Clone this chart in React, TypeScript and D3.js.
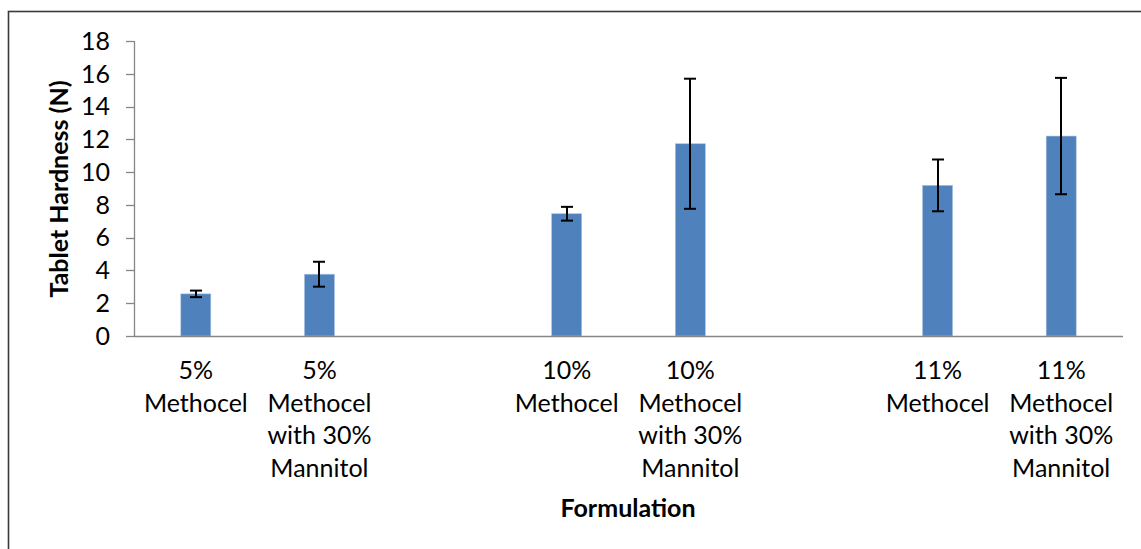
import React from "react";
import * as d3 from "d3";

const categories: string[][] = [
  ["5%", "Methocel"],
  ["5%", "Methocel", "with 30%", "Mannitol"],
  [],
  ["10%", "Methocel"],
  ["10%", "Methocel", "with 30%", "Mannitol"],
  [],
  ["11%", "Methocel"],
  ["11%", "Methocel", "with 30%", "Mannitol"],
];
const values: (number | null)[] = [2.57, 3.77, null, 7.46, 11.73, null, 9.19, 12.2];
const errors: (number | null)[] = [0.2, 0.76, null, 0.42, 3.97, null, 1.58, 3.55];
const yTicks = [0, 2, 4, 6, 8, 10, 12, 14, 16, 18];

const W = 1141;
const H = 549;
const FONT = "Lato, 'Open Sans', sans-serif";

export default function App() {
  const x0 = 134, x1 = 1123, yTop = 41, yBot = 336;
  const idx = categories.map((_, i) => String(i));
  const x = d3.scaleBand<string>().domain(idx).range([x0, x1]).paddingInner(0).paddingOuter(0);
  const y = d3.scaleLinear().domain([0, 18]).range([yBot, yTop]);
  const barW = 30;
  const capW = 12;
  const axisColor = "#868686";
  const fs = 25;

  return (
    <svg width={W} height={H} style={{ position: "absolute", left: 0, top: 0, background: "#fff", overflow: "hidden" }}
      fontFamily={FONT}>
      <rect x={0} y={0} width={W} height={H} fill="#fff" />
      <rect x={8.5} y={11.5} width={W + 10} height={H + 10} fill="none" stroke="#3a3a3a" strokeWidth={1.6} />
      {/* y axis */}
      <line x1={x0 + 0.5} x2={x0 + 0.5} y1={yTop} y2={yBot} stroke={axisColor} strokeWidth={1.3} />
      {yTicks.map((t) => (
        <g key={t}>
          <line x1={126} x2={x0} y1={Math.round(y(t)) + 0.5} y2={Math.round(y(t)) + 0.5} stroke={axisColor} strokeWidth={1.3} />
          <text x={110} y={y(t)} dy="0.35em" textAnchor="end" fontSize={fs} fill="#000">{t}</text>
        </g>
      ))}
      {/* bars */}
      {values.map((v, i) => {
        if (v == null) return null;
        const cx = (x(String(i)) as number) + x.bandwidth() / 2;
        return (
          <rect key={"b" + i} x={cx - barW / 2} y={y(v)} width={barW} height={yBot - y(v)}
            fill="#4F81BD" stroke="#A7C0DE" strokeWidth={0.6} />
        );
      })}
      {/* x axis */}
      <line x1={x0} x2={x1} y1={yBot + 0.5} y2={yBot + 0.5} stroke={axisColor} strokeWidth={1.3} />
      {/* error bars */}
      {values.map((v, i) => {
        const e = errors[i];
        if (v == null || e == null) return null;
        const cx = Math.round((x(String(i)) as number) + x.bandwidth() / 2);
        const hi = y(v + e), lo = y(v - e);
        return (
          <g key={"e" + i} stroke="#000" strokeWidth={2}>
            <line x1={cx} x2={cx} y1={hi} y2={lo} />
            <line x1={cx - capW / 2} x2={cx + capW / 2} y1={hi} y2={hi} />
            <line x1={cx - capW / 2} x2={cx + capW / 2} y1={lo} y2={lo} />
          </g>
        );
      })}
      {/* category labels */}
      {categories.map((lines, i) => {
        const cx = (x(String(i)) as number) + x.bandwidth() / 2;
        return (
          <text key={"c" + i} x={cx} textAnchor="middle" fontSize={fs} fill="#000">
            {lines.map((l, j) => (
              <tspan key={j} x={cx} y={379 + j * 32.7}>{l}</tspan>
            ))}
          </text>
        );
      })}
      {/* titles */}
      <text x={628} y={517} textAnchor="middle" fontSize={fs} fontWeight="bold" fill="#000">Formulation</text>
      <text transform={`translate(68,${189}) rotate(-90)`} textAnchor="middle" fontSize={fs} fontWeight="bold" fill="#000">Tablet Hardness (N)</text>
    </svg>
  );
}
